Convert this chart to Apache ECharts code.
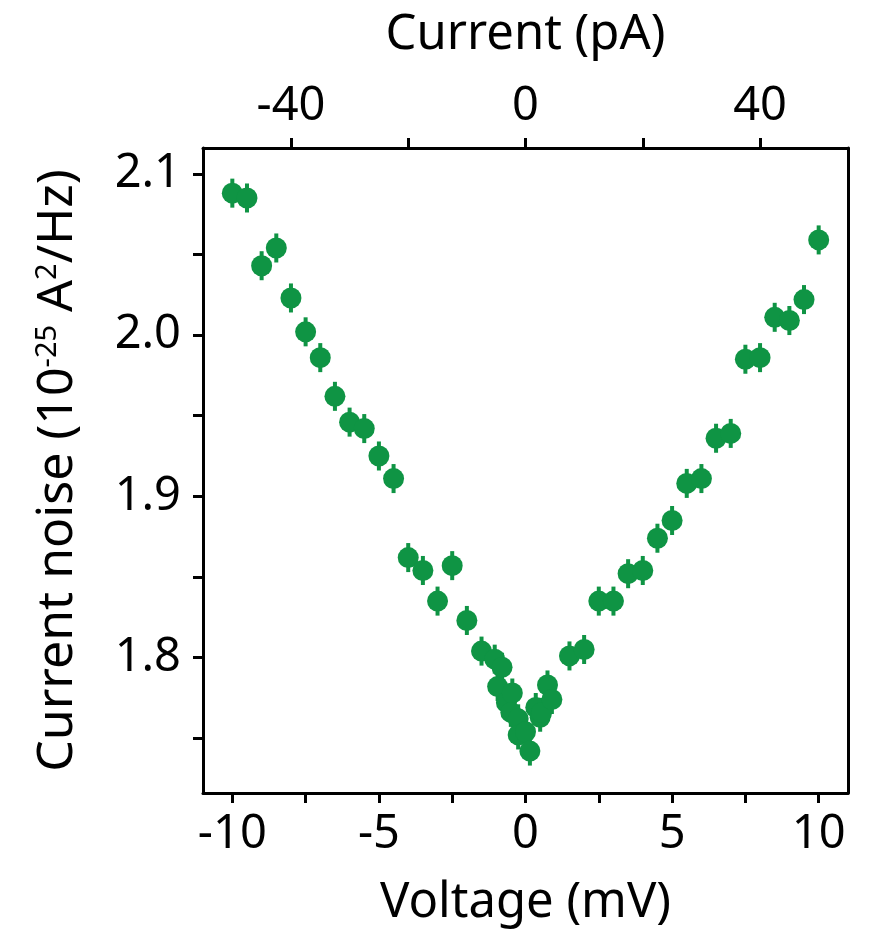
<!DOCTYPE html>
<html>
<head>
<meta charset="utf-8">
<script src="https://cdn.jsdelivr.net/npm/echarts@6/dist/echarts.min.js"></script>
<style>
html,body{margin:0;padding:0;background:#fff;}
#chart{width:872px;height:940px;}
</style>
</head>
<body>
<div id="chart"></div>
<script>
// Data (voltage in mV, current noise in 1e-25 A^2/Hz)
const voltage = [-10, -9.5, -9, -8.5, -8, -7.5, -7, -6.5, -6, -5.5, -5, -4.5, -4, -3.5, -3, -2.5, -2, -1.5,
  -1.05, -0.95, -0.8, -0.65, -0.45, -0.5, -0.25, -0.25, 0, 0.15, 0.35, 0.5, 0.55, 0.75, 0.9,
  1.5, 2, 2.5, 3, 3.5, 4, 4.5, 5, 5.5, 6, 6.5, 7, 7.5, 8, 8.5, 9, 9.5, 10];
const noise = [2.088, 2.085, 2.043, 2.054, 2.023, 2.002, 1.986, 1.962, 1.946, 1.942, 1.925, 1.911, 1.862, 1.854, 1.835, 1.857, 1.823, 1.804,
  1.799, 1.782, 1.794, 1.772, 1.778, 1.766, 1.762, 1.752, 1.754, 1.742, 1.769, 1.763, 1.766, 1.783, 1.774,
  1.801, 1.805, 1.835, 1.835, 1.852, 1.854, 1.874, 1.885, 1.908, 1.911, 1.936, 1.939, 1.985, 1.986, 2.011, 2.009, 2.022, 2.059];
const noiseErr = voltage.map(() => 0.009);

const voltageTicks = [-10, -7.5, -5, -2.5, 0, 2.5, 5, 7.5, 10];
const voltageLabels = [-10, -5, 0, 5, 10];
const currentTicks = [-40, -20, 0, 20, 40];
const currentLabels = [-40, 0, 40];
const noiseTicks = [1.75, 1.8, 1.85, 1.9, 1.95, 2.0, 2.05, 2.1];
const noiseLabels = [1.8, 1.9, 2.0, 2.1];

const GREEN = '#0f9444';
const FONT = 'Noto Sans';

const points = voltage.map((v, i) => [v, noise[i], noiseErr[i]]);

const chart = echarts.init(document.getElementById('chart'));
const axisLine = {show: true, onZero: false, lineStyle: {color: '#000', width: 3}};
const tick = (vals) => ({show: true, inside: false, length: 10, lineStyle: {color: '#000', width: 3}, customValues: vals});
const label = (vals, margin, fmt) => ({show: true, customValues: vals, margin: margin, fontSize: 47, fontFamily: FONT, color: '#000', formatter: fmt});

chart.setOption({
  animation: false,
  backgroundColor: '#fff',
  grid: {left: 203, right: 24, top: 148, bottom: 147, containLabel: false},
  xAxis: [
    {
      type: 'value', position: 'bottom', min: -11, max: 11,
      axisLine: axisLine, axisTick: tick(voltageTicks),
      axisLabel: label(voltageLabels, 18, (v) => String(v)),
      splitLine: {show: false},
      name: 'Voltage (mV)', nameLocation: 'middle', nameGap: 86,
      nameTextStyle: {fontSize: 49, fontFamily: FONT, color: '#000'}
    },
    {
      type: 'value', position: 'top', min: -55, max: 55,
      axisLine: axisLine, axisTick: tick(currentTicks),
      axisLabel: label(currentLabels, 18, (v) => String(v)),
      splitLine: {show: false},
      name: 'Current (pA)', nameLocation: 'middle', nameGap: 88,
      nameTextStyle: {fontSize: 49, fontFamily: FONT, color: '#000'}
    }
  ],
  yAxis: [
    {
      type: 'value', position: 'left', min: 1.716, max: 2.116,
      axisLine: axisLine, axisTick: tick(noiseTicks),
      axisLabel: label(noiseLabels, 22, (v) => v.toFixed(1)),
      splitLine: {show: false},
      name: 'Current noise (10{sup|-25} A{sup|2}/Hz)', nameLocation: 'middle', nameGap: 120, nameRotate: 90,
      nameTextStyle: {fontSize: 50, fontFamily: FONT, color: '#000',
        rich: {sup: {fontSize: 29, fontFamily: FONT, color: '#000', verticalAlign: 'top', lineHeight: 50}}}
    },
    {
      type: 'value', position: 'right', min: 1.716, max: 2.116,
      axisLine: axisLine, axisTick: {show: false}, axisLabel: {show: false}, splitLine: {show: false}
    }
  ],
  series: [
    {
      type: 'custom', xAxisIndex: 0, yAxisIndex: 0, z: 2,
      data: points,
      renderItem: function (params, api) {
        const x = api.value(0), y = api.value(1), e = api.value(2);
        const top = api.coord([x, y + e]);
        const bot = api.coord([x, y - e]);
        return {
          type: 'rect',
          shape: {x: top[0] - 2, y: top[1], width: 4, height: bot[1] - top[1]},
          style: {fill: GREEN}
        };
      }
    },
    {
      type: 'scatter', xAxisIndex: 0, yAxisIndex: 0, z: 3,
      data: points.map(p => [p[0], p[1]]),
      symbol: 'circle', symbolSize: 21,
      itemStyle: {color: GREEN, opacity: 1},
      emphasis: {disabled: true}
    }
  ]
});
</script>
</body>
</html>
